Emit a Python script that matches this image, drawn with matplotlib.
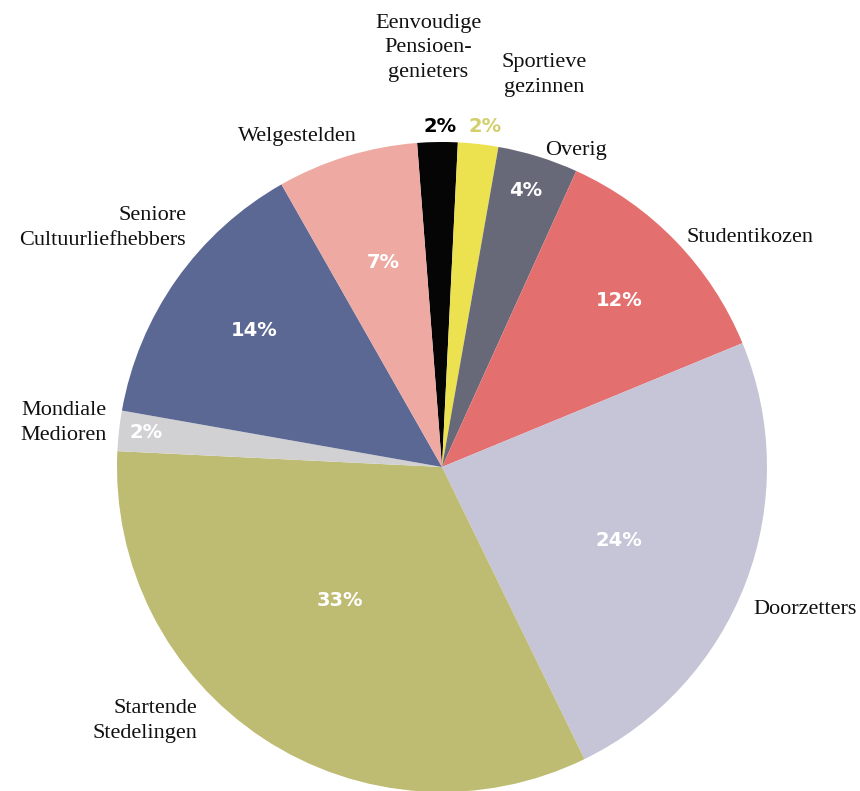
import matplotlib.pyplot as plt

# Data (clockwise from the top)
segments = ['Eenvoudige\nPensioen-\ngenieters', 'Sportieve\ngezinnen', 'Overig', 'Studentikozen',
            'Doorzetters', 'Startende\nStedelingen', 'Mondiale\nMedioren',
            'Seniore\nCultuurliefhebbers', 'Welgestelden']
shares = [2, 2, 4, 12, 24, 33, 2, 14, 7]
pct_labels = ['2%', '2%', '4%', '12%', '24%', '33%', '2%', '14%', '7%']

sliceColors = ['#050505', '#ece24f', '#676878', '#e46f6f', '#c6c5d8',
               '#bebb72', '#d1d1d3', '#5b6893', '#eda9a2']

W, H = 860, 791
fig = plt.figure(figsize=(W / 100, H / 100), dpi=100)
ax = fig.add_axes([0, 0, 1, 1])

cx, cy, r = 442, H - 467, 325
ax.pie(shares, colors=sliceColors, startangle=94.4, counterclock=False,
       center=(cx, cy), radius=r, wedgeprops={'linewidth': 0})

ax.set_xlim(0, W)
ax.set_ylim(0, H)
ax.set_aspect('auto')
ax.axis('off')

serif = 'Liberation Serif'
sans = 'DejaVu Sans'

# name labels: (x, y in pixels from top, alignment)
name_pos = [(428, 48, 'center'), (544, 75, 'center'), (576, 150, 'center'),
            (686, 238, 'left'), (753, 610, 'left'), (197, 721, 'right'),
            (107, 423, 'right'), (186, 228, 'right'), (297, 137, 'center')]
for name, (x, y, ha) in zip(segments, name_pos):
    ax.text(x, H - y, name, fontsize=16, family=serif, ha=ha, va='center',
            multialignment=ha, linespacing=1.4, color='#111111')

# percentage labels
pct_pos = [(440, 126), (485, 126), (526, 190), (619, 300), (619, 541),
           (340, 600), (146, 432), (254, 331), (383, 262)]
pct_colors = ['#000000', '#d3cf6c', 'white', 'white', 'white',
              'white', 'white', 'white', 'white']
for lab, (x, y), c in zip(pct_labels, pct_pos, pct_colors):
    ax.text(x, H - y, lab, fontsize=14, family=sans, fontweight='bold',
            ha='center', va='center', color=c)

plt.savefig('out.png', dpi=100)
